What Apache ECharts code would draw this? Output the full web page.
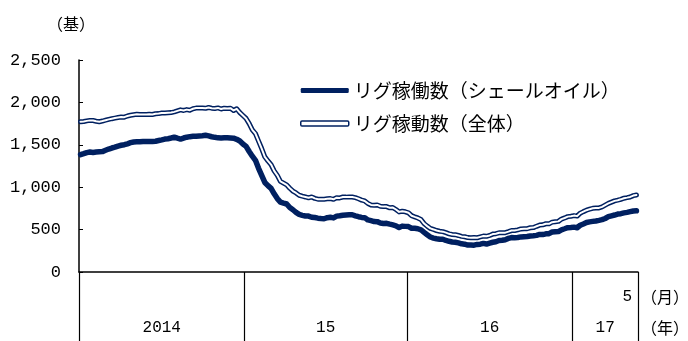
<!DOCTYPE html>
<html>
<head>
<meta charset="utf-8">
<script src="https://cdn.jsdelivr.net/npm/echarts@6/dist/echarts.min.js"></script>
<style>
  html, body { margin: 0; padding: 0; background: #ffffff; }
  #chart { width: 688px; height: 341px; }
</style>
</head>
<body>
<div id="chart"></div>
<script>
// Weekly US rig counts, grouped by calendar year (2017 runs to May).
const yearLabels = ['2014', '15', '16', '17'];
const lastMonthLabel = '5';
const seriesNames = ['リグ稼働数（シェールオイル）', 'リグ稼動数（全体）'];

const shale2014 = [1383, 1395, 1408, 1415, 1410, 1415, 1418, 1420, 1435, 1450, 1462, 1472, 1485, 1495, 1501, 1512, 1525, 1533, 1535, 1535, 1538, 1538, 1540, 1540, 1542, 1550, 1558, 1568, 1572, 1580, 1590, 1578, 1568, 1580, 1590, 1596, 1600, 1602, 1605, 1608, 1612, 1605, 1595, 1588, 1582, 1580, 1582, 1582, 1580, 1578, 1565, 1545, 1510];
const shale2015 = [1482, 1421, 1366, 1317, 1223, 1140, 1056, 1019, 986, 922, 866, 825, 813, 802, 760, 734, 703, 679, 668, 660, 659, 646, 642, 635, 631, 628, 640, 645, 638, 659, 664, 670, 672, 674, 675, 662, 652, 644, 641, 614, 605, 595, 594, 578, 572, 574, 564, 555, 545, 524, 541, 538];
const shale2016 = [536, 516, 515, 510, 498, 467, 439, 413, 400, 392, 386, 387, 372, 362, 354, 351, 343, 332, 328, 318, 318, 316, 325, 328, 337, 330, 341, 351, 357, 371, 374, 381, 396, 406, 405, 407, 414, 416, 418, 425, 428, 432, 443, 441, 450, 452, 471, 474, 477, 498, 510, 523, 525];
const shale2017 = [529, 522, 551, 566, 583, 591, 597, 602, 609, 617, 631, 652, 662, 672, 683, 688, 697, 703, 712, 720, 722];

const total2014 = [1772, 1775, 1782, 1788, 1786, 1778, 1772, 1780, 1790, 1800, 1808, 1815, 1822, 1828, 1826, 1840, 1848, 1855, 1860, 1858, 1857, 1858, 1860, 1858, 1866, 1868, 1874, 1876, 1878, 1880, 1888, 1900, 1912, 1905, 1915, 1908, 1925, 1933, 1935, 1934, 1930, 1940, 1932, 1928, 1935, 1922, 1932, 1928, 1932, 1905, 1925, 1880, 1845];
const total2015 = [1811, 1750, 1676, 1633, 1543, 1456, 1358, 1310, 1267, 1192, 1140, 1069, 1048, 1028, 988, 954, 932, 905, 894, 885, 875, 885, 868, 859, 857, 859, 863, 866, 857, 876, 874, 884, 883, 885, 884, 877, 864, 848, 838, 809, 791, 787, 791, 775, 771, 771, 757, 760, 737, 709, 717, 710];
const total2016 = [698, 664, 650, 637, 619, 571, 541, 514, 502, 489, 480, 476, 464, 450, 443, 440, 431, 420, 416, 406, 404, 408, 404, 414, 424, 421, 431, 447, 452, 462, 463, 464, 476, 489, 489, 497, 508, 510, 511, 522, 524, 539, 553, 557, 569, 568, 588, 593, 597, 624, 637, 653, 658];
const total2017 = [665, 659, 694, 712, 729, 741, 751, 754, 756, 768, 789, 809, 824, 839, 847, 857, 870, 877, 885, 901, 908];

const shaleByYear = [shale2014, shale2015, shale2016, shale2017];
const totalByYear = [total2014, total2015, total2016, total2017];

// Each week occupies one unit on the x axis; points sit in the middle of their slot.
const shaleData = [];
const totalData = [];
const yearBounds = [0];
let slot = 0;
shaleByYear.forEach((weeks, y) => {
  weeks.forEach((v, i) => {
    shaleData.push([slot + i + 0.5, v]);
    totalData.push([slot + i + 0.5, totalByYear[y][i]]);
  });
  slot += weeks.length;
  yearBounds.push(slot);
});
const weekCount = slot;
const yearMids = yearLabels.map((_, i) => (yearBounds[i] + yearBounds[i + 1]) / 2);

const NAVY = '#002060';
const numFont = "'Liberation Mono', 'DejaVu Sans Mono', monospace";
const jpFont = "'Noto Sans CJK JP', sans-serif";

const chart = echarts.init(document.getElementById('chart'), null, { renderer: 'canvas' });

chart.setOption({
  animation: false,
  backgroundColor: '#ffffff',
  grid: { left: 79, right: 50, top: 60, bottom: 69, containLabel: false, outerBoundsMode: 'none' },
  legend: {
    orient: 'vertical',
    left: 295,
    top: 76,
    itemWidth: 48,
    itemHeight: 5,
    itemGap: 14,
    selectedMode: false,
    textStyle: { fontFamily: jpFont, fontSize: 19, color: '#000' },
    data: [
      { name: seriesNames[0], icon: 'roundRect', itemStyle: { color: NAVY, borderWidth: 0 } },
      { name: seriesNames[1], icon: 'roundRect', itemStyle: { color: '#ffffff', borderColor: NAVY, borderWidth: 1.5 } }
    ]
  },
  xAxis: [
    {
      type: 'value',
      min: 0,
      max: weekCount,
      position: 'bottom',
      axisLine: { show: true, onZero: false, lineStyle: { color: '#000', width: 1.5 } },
      axisTick: { show: true, customValues: yearBounds, length: 69, lineStyle: { color: '#000', width: 1.2 } },
      axisLabel: {
        customValues: yearMids,
        formatter: (v) => yearLabels[yearMids.indexOf(v)] || '',
        margin: 56,
        verticalAlign: 'middle',
        fontFamily: numFont,
        fontSize: 16,
        color: '#000'
      },
      splitLine: { show: false }
    },
    {
      type: 'value',
      min: 0,
      max: weekCount,
      position: 'bottom',
      axisLine: { show: false },
      axisTick: { show: false },
      axisLabel: {
        customValues: [weekCount],
        formatter: () => lastMonthLabel,
        margin: 25,
        align: 'right',
        padding: [0, 6, 0, 0],
        verticalAlign: 'middle',
        fontFamily: numFont,
        fontSize: 16,
        color: '#000'
      },
      splitLine: { show: false }
    }
  ],
  yAxis: {
    type: 'value',
    min: 0,
    max: 2500,
    interval: 500,
    axisLine: { show: true, lineStyle: { color: '#000', width: 1.5 } },
    axisTick: { show: true, inside: true, length: 4, lineStyle: { color: '#000' } },
    axisLabel: {
      margin: 18,
      fontFamily: numFont,
      fontSize: 17,
      color: '#000',
      formatter: (v) => v.toLocaleString('en-US')
    },
    splitLine: { show: false }
  },
  series: [
    {
      name: seriesNames[0],
      type: 'line',
      data: shaleData,
      showSymbol: false,
      symbol: 'none',
      lineStyle: { color: NAVY, width: 5.5, join: 'round', cap: 'round' },
      itemStyle: { color: NAVY },
      z: 2
    },
    {
      name: seriesNames[1],
      type: 'line',
      data: totalData,
      showSymbol: false,
      symbol: 'none',
      lineStyle: { color: NAVY, width: 5, join: 'round', cap: 'round' },
      itemStyle: { color: NAVY },
      z: 3
    },
    {
      name: 'total-inner',
      type: 'line',
      data: totalData,
      showSymbol: false,
      symbol: 'none',
      lineStyle: { color: '#ffffff', width: 2, join: 'round', cap: 'round' },
      itemStyle: { color: '#ffffff' },
      z: 4
    }
  ],
  graphic: [
    { type: 'text', x: 71, y: 24, style: { text: '（基）', fontFamily: jpFont, fontSize: 16, fill: '#000', align: 'center', verticalAlign: 'middle' } },
    { type: 'text', x: 665, y: 297, style: { text: '（月）', fontFamily: jpFont, fontSize: 16, fill: '#000', align: 'center', verticalAlign: 'middle' } },
    { type: 'text', x: 665, y: 328, style: { text: '（年）', fontFamily: jpFont, fontSize: 16, fill: '#000', align: 'center', verticalAlign: 'middle' } }
  ]
});
</script>
</body>
</html>
